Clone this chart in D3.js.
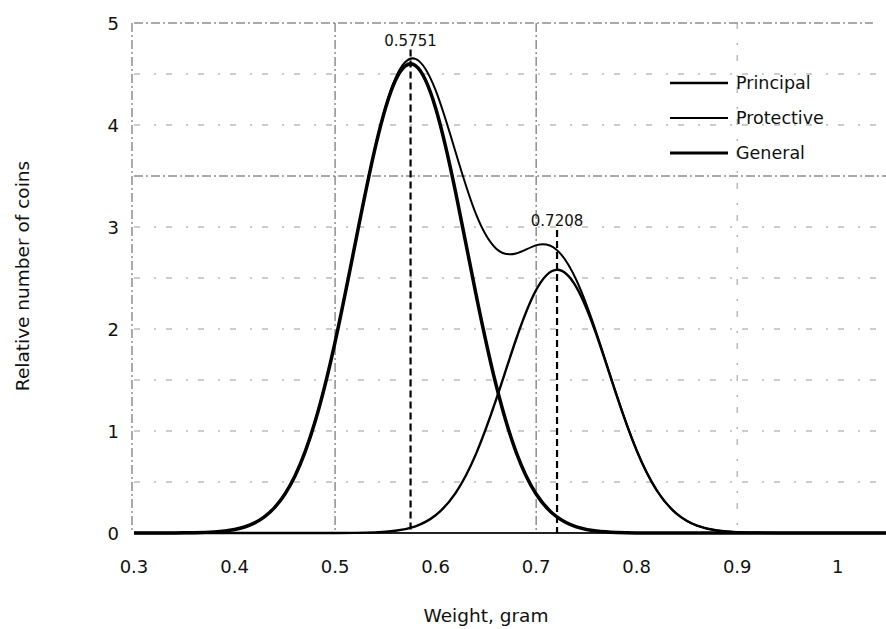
<!DOCTYPE html>
<html>
<head>
<meta charset="utf-8">
<script src="https://cdn.jsdelivr.net/npm/d3@7"></script>
<style>
  body { margin: 0; background: #fff; }
  svg { display: block; font-family: "DejaVu Sans", Verdana, sans-serif; }
  .grid { fill: none; stroke: #555; stroke-width: 1; stroke-dasharray: 9,3,2,3; }
  .grid.faint { stroke: #999; stroke-dasharray: 6,14,2,10; }
  .tick { font-size: 18px; fill: #111; }
</style>
</head>
<body>
<svg></svg>
<script>
const width = 886;
const height = 629;

// weight (gram) sampled along the curves
const weights = [0.30,0.32,0.34,0.36,0.38,0.40,0.42,0.44,0.46,0.48,
  0.50,0.52,0.54,0.56,0.58,0.60,0.62,0.64,0.66,0.68,
  0.70,0.72,0.74,0.76,0.78,0.80,0.82,0.84,0.86,0.88,
  0.90,0.92,0.94,0.96,0.98,1.00,1.02,1.04,1.06];

const principal = [0,0,0.001,0.003,0.011,0.035,0.099,0.251,0.556,1.088,
  1.872,2.835,3.780,4.436,4.582,4.167,3.336,2.350,1.458,0.796,
  0.382,0.162,0.060,0.020,0.006,0.001,0,0,0,0,
  0,0,0,0,0,0,0,0,0];

const protective = [0,0,0,0,0,0,0,0,0,0,
  0,0.001,0.006,0.022,0.066,0.174,0.394,0.771,1.302,1.897,
  2.382,2.580,2.410,1.942,1.350,0.809,0.418,0.187,0.072,0.024,
  0.007,0.002,0,0,0,0,0,0,0];

const general = [0,0,0.001,0.003,0.011,0.035,0.099,0.251,0.556,1.088,
  1.872,2.836,3.786,4.458,4.648,4.341,3.730,3.130,2.790,2.740,
  2.820,2.780,2.480,1.962,1.356,0.810,0.418,0.187,0.072,0.024,
  0.007,0.002,0,0,0,0,0,0,0];

const peaks = [0.5751, 0.7208];
const peakTops = [4.74, 2.97];

const xTicks = [0.3,0.4,0.5,0.6,0.7,0.8,0.9,1];
const yTicks = [0,1,2,3,4,5];
const yGrid = [0.5,1,1.5,2,2.5,3,4,4.5];
const yGridMain = [3.5,5];
const xGridMain = [0.5,0.7];
const xGridFaint = [0.9];

const legendNames = ["Principal","Protective","General"];

var xScale = d3.scaleLinear().domain([0.3,1.05]).range([134,888]);
var yScale = d3.scaleLinear().domain([0,5]).range([533,23]);

var svg = d3.select("svg").attr("width",width).attr("height",height);

// grid lines
svg.selectAll("line.hg")
  .data(yGrid)
  .enter()
  .append("line")
  .attr("class","grid faint")
  .attr("x1",xScale(0.3)).attr("x2",xScale(1.05))
  .attr("y1",d=>yScale(d)).attr("y2",d=>yScale(d));

svg.selectAll("line.hgm")
  .data(yGridMain)
  .enter()
  .append("line")
  .attr("class","grid")
  .attr("x1",xScale(0.3)).attr("x2",d=>d==5 ? xScale(1.035) : xScale(1.05))
  .attr("y1",d=>yScale(d)).attr("y2",d=>yScale(d));

svg.selectAll("line.vgf")
  .data(xGridFaint)
  .enter()
  .append("line")
  .attr("class","grid faint")
  .attr("x1",d=>xScale(d)).attr("x2",d=>xScale(d))
  .attr("y1",yScale(5)).attr("y2",yScale(0));

svg.selectAll("line.vg")
  .data(xGridMain.concat([0.298]))
  .enter()
  .append("line")
  .attr("class","grid")
  .attr("x1",d=>xScale(d)).attr("x2",d=>xScale(d))
  .attr("y1",yScale(5)).attr("y2",yScale(0));

// x axis base line
svg.append("line")
  .attr("x1",xScale(0.3)).attr("x2",xScale(1.05))
  .attr("y1",yScale(0)).attr("y2",yScale(0))
  .attr("stroke","#222").attr("stroke-width",2);

// tick labels
svg.selectAll("text.xt")
  .data(xTicks)
  .enter()
  .append("text")
  .attr("class","tick")
  .attr("x",d=>xScale(d))
  .attr("y",573)
  .attr("text-anchor","middle")
  .text(d=>d);

svg.selectAll("text.yt")
  .data(yTicks)
  .enter()
  .append("text")
  .attr("class","tick")
  .attr("x",119)
  .attr("y",d=>yScale(d)+6.5)
  .attr("text-anchor","end")
  .text(d=>d);

// axis titles
svg.append("text")
  .attr("x",486).attr("y",622)
  .attr("text-anchor","middle")
  .attr("font-size",18.5)
  .attr("fill","#111")
  .text("Weight, gram");

svg.append("text")
  .attr("transform","translate(29,276) rotate(-90)")
  .attr("text-anchor","middle")
  .attr("font-size",18.5)
  .attr("fill","#111")
  .text("Relative number of coins");

// peak markers
svg.selectAll("line.peak")
  .data(peaks)
  .enter()
  .append("line")
  .attr("x1",d=>xScale(d)).attr("x2",d=>xScale(d))
  .attr("y1",(d,i)=>yScale(peakTops[i])).attr("y2",yScale(0))
  .attr("stroke","#000").attr("stroke-width",2.2)
  .attr("stroke-dasharray","7,4");

svg.selectAll("text.peak")
  .data(peaks)
  .enter()
  .append("text")
  .attr("x",d=>xScale(d))
  .attr("y",(d,i)=>yScale(peakTops[i])-4)
  .attr("text-anchor","middle")
  .attr("font-size",15)
  .attr("fill","#111")
  .text(d=>d);

// curves
var lineGenerator = d3.line()
  .x((d,i)=>xScale(weights[i]))
  .y(d=>yScale(d))
  .curve(d3.curveNatural);

const series = [
  {vals: general, w: 2},
  {vals: protective, w: 2.4},
  {vals: principal, w: 3.5}
];

svg.selectAll("path.curve")
  .data(series)
  .enter()
  .append("path")
  .attr("fill","none")
  .attr("stroke","#000")
  .attr("stroke-width",d=>d.w)
  .attr("stroke-linejoin","round")
  .attr("d",d=>lineGenerator(d.vals));

// legend
const legendW = [2.6,2,2.8];
var legend = svg.selectAll("g.legend")
  .data(legendNames)
  .enter()
  .append("g")
  .attr("transform",(d,i)=>`translate(670,${83+i*35})`);

legend.append("line")
  .attr("x1",0).attr("x2",58)
  .attr("y1",0).attr("y2",0)
  .attr("stroke","#000")
  .attr("stroke-width",(d,i)=>legendW[i]);

legend.append("text")
  .attr("x",66)
  .attr("y",6)
  .attr("font-size",17.5)
  .attr("fill","#111")
  .text(d=>d);
</script>
</body>
</html>
